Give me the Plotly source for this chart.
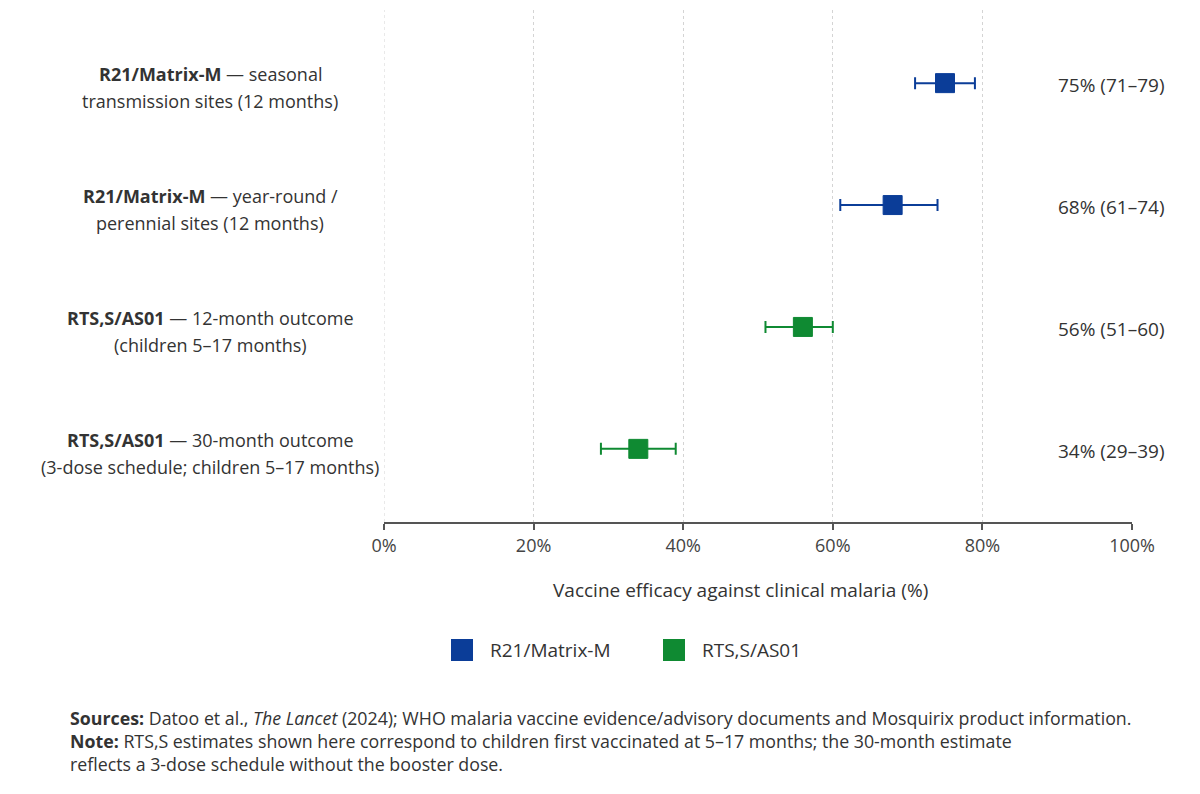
import plotly.graph_objects as go

# Vaccine efficacy estimates (point estimate and 95% CI, %)
row_titles = ["R21/Matrix-M", "R21/Matrix-M", "RTS,S/AS01", "RTS,S/AS01"]
row_details = [
    ["seasonal", "transmission sites (12 months)"],
    ["year-round /", "perennial sites (12 months)"],
    ["12-month outcome", "(children 5\u201317 months)"],
    ["30-month outcome", "(3-dose schedule; children 5\u201317 months)"],
]
vaccine = ["R21/Matrix-M", "R21/Matrix-M", "RTS,S/AS01", "RTS,S/AS01"]
efficacy = [75, 68, 56, 34]
ci_low = [71, 61, 51, 29]
ci_high = [79, 74, 60, 39]
row_pos = [3, 2, 1, 0]

x_ticks = [0, 20, 40, 60, 80, 100]
x_ticktext = ["0%", "20%", "40%", "60%", "80%", "100%"]

colors = {"R21/Matrix-M": "#0b3d98", "RTS,S/AS01": "#0f8a32"}
FONT = "Open Sans"
TEXT = "#333333"
GRID = "#d4d4d4"

# plot area geometry (pixels)
W, H = 1200, 794
L, R, T, B = 384, 1132, 10, 522


def px_x(p):
    return (p - L) / (R - L)


def px_y(p):
    return (B - p) / (B - T)


fig = go.Figure()

for name in ["R21/Matrix-M", "RTS,S/AS01"]:
    idx = [i for i, v in enumerate(vaccine) if v == name]
    fig.add_trace(go.Scatter(
        x=[efficacy[i] for i in idx],
        y=[row_pos[i] for i in idx],
        mode="markers",
        name=name,
        showlegend=False,
        marker=dict(symbol="square", size=19, color=colors[name],
                    line=dict(color=colors[name], width=1)),
        error_x=dict(
            type="data", symmetric=False,
            array=[ci_high[i] - efficacy[i] for i in idx],
            arrayminus=[efficacy[i] - ci_low[i] for i in idx],
            color=colors[name], thickness=2, width=6,
        ),
        hovertemplate="%{x}%<extra>" + name + "</extra>",
    ))

annotations = []
# category labels on the left (two lines each)
for i in range(len(row_pos)):
    annotations.append(dict(
        x=px_x(210), xref="paper", y=row_pos[i], yref="y", yshift=9,
        text=f"<b>{row_titles[i]}</b> \u2014 {row_details[i][0]}",
        showarrow=False, xanchor="center", yanchor="middle",
        font=dict(family=FONT, size=18, color=TEXT),
    ))
    annotations.append(dict(
        x=px_x(210), xref="paper", y=row_pos[i], yref="y", yshift=-18,
        text=row_details[i][1],
        showarrow=False, xanchor="center", yanchor="middle",
        font=dict(family=FONT, size=18, color=TEXT),
    ))
    # value labels on the right
    annotations.append(dict(
        x=px_x(1056), xref="paper", y=row_pos[i], yref="y", yshift=-2,
        text=f"{efficacy[i]}% ({ci_low[i]}\u2013{ci_high[i]})",
        showarrow=False, xanchor="left", yanchor="middle",
        font=dict(family=FONT, size=19, color=TEXT),
    ))

# axis title
annotations.append(dict(
    x=px_x(740), xref="paper", y=px_y(590), yref="paper",
    text="Vaccine efficacy against clinical malaria (%)",
    showarrow=False, xanchor="center", yanchor="middle",
    font=dict(family=FONT, size=19, color=TEXT),
))

# dotted reference line at 0%
shapes = [dict(
    type="line", xref="x", yref="paper", x0=0, x1=0, y0=0, y1=1,
    line=dict(color=GRID, width=1, dash="dot"), layer="below",
)]

# legend
legend_items = [("R21/Matrix-M", 451, 488), ("RTS,S/AS01", 663, 700)]
for name, sq_x, tx_x in legend_items:
    shapes.append(dict(
        type="rect", xref="paper", yref="paper",
        x0=px_x(sq_x), x1=px_x(sq_x + 22), y0=px_y(661), y1=px_y(639),
        fillcolor=colors[name], line=dict(width=0),
    ))
    annotations.append(dict(
        x=px_x(tx_x), xref="paper", y=px_y(650), yref="paper",
        text=name, showarrow=False, xanchor="left", yanchor="middle",
        font=dict(family=FONT, size=19, color=TEXT),
    ))

# sources and note
annotations.append(dict(
    x=px_x(68), xref="paper", y=px_y(704), yref="paper",
    text=("<b>Sources:</b> Datoo et al., <i>The Lancet</i> (2024); WHO malaria vaccine "
          "evidence/advisory documents and Mosquirix product information.<br>"
          "<b>Note:</b> RTS,S estimates shown here correspond to children first vaccinated at "
          "5\u201317 months; the 30-month estimate<br>"
          "reflects a 3-dose schedule without the booster dose."),
    showarrow=False, xanchor="left", yanchor="top", align="left",
    font=dict(family=FONT, size=17.8, color=TEXT),
))

fig.update_layout(
    width=W, height=H,
    margin=dict(l=L, r=W - R, t=T, b=H - B),
    paper_bgcolor="white", plot_bgcolor="white",
    font=dict(family=FONT, color=TEXT),
    xaxis=dict(
        range=[0, 100], tickvals=x_ticks, ticktext=x_ticktext,
        showline=True, linecolor="#555555", linewidth=2,
        ticks="outside", ticklen=6, tickwidth=2, tickcolor="#555555",
        tickfont=dict(family=FONT, size=18, color="#444444"),
        showgrid=True, gridcolor=GRID, griddash="dot", gridwidth=1,
        zeroline=False,
    ),
    yaxis=dict(
        range=[-0.6, 3.6], showticklabels=False, showgrid=False,
        zeroline=False, showline=False, ticks="",
    ),
    annotations=annotations,
    shapes=shapes,
    showlegend=False,
)

fig.write_html("out.html")
